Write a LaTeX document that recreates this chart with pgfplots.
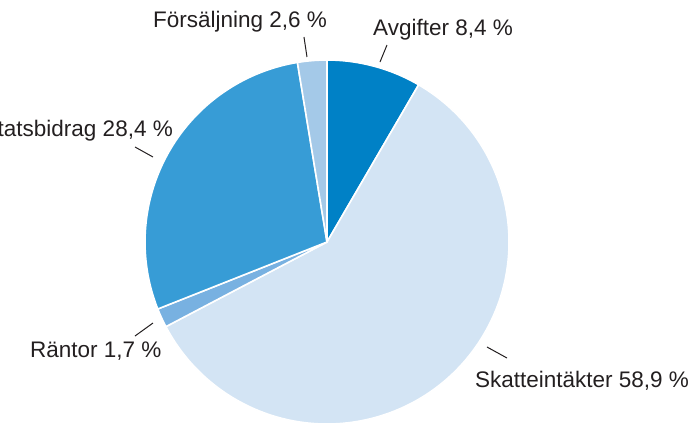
\documentclass[border=0pt]{standalone}
\usepackage{pgfplots}
\pgfplotsset{compat=1.18}
\usepackage{fontspec}
\setmainfont{Liberation Sans}
\definecolor{cA}{HTML}{0081C6}
\definecolor{cB}{HTML}{D3E4F4}
\definecolor{cC}{HTML}{78B1E1}
\definecolor{cD}{HTML}{379CD6}
\definecolor{cE}{HTML}{A4C9E8}
\definecolor{txt}{HTML}{231F20}
\tikzset{lbl/.style={font=\fontsize{22.5}{27}\selectfont, text=txt, inner sep=0pt}}
\begin{document}
\begin{tikzpicture}
% shares in percent, clockwise from 12 o'clock
\pgfmathsetmacro\vA{8.4}  % Avgifter
\pgfmathsetmacro\vB{58.9} % Skatteintäkter
\pgfmathsetmacro\vC{1.7}  % Räntor
\pgfmathsetmacro\vD{28.4} % Statsbidrag
\pgfmathsetmacro\vE{2.6}  % Försäljning
\pgfmathsetmacro\aO{90}
\pgfmathsetmacro\aA{\aO-3.6*\vA}
\pgfmathsetmacro\aB{\aA-3.6*\vB}
\pgfmathsetmacro\aC{\aB-3.6*\vC}
\pgfmathsetmacro\aD{\aC-3.6*\vD}
\pgfmathsetmacro\aE{\aD-3.6*\vE}
\begin{axis}[x=182pt, y=182pt, anchor=origin, at={(0,0)},
  xmin=-1.7967, xmax=2.0110, ymin=-1.0055, ymax=1.3297,
  hide axis, clip=false]
\coordinate (bl) at (axis cs:-1.7967,-1.0055);
\coordinate (tr) at (axis cs:2.0110,1.3297);
\fill[cA, draw=white, line width=1.6pt] (axis cs:0,0) -- (axis cs:{cos(\aO)},{sin(\aO)}) arc[start angle=\aO, end angle=\aA, radius=1] -- cycle;
\fill[cB, draw=white, line width=1.6pt] (axis cs:0,0) -- (axis cs:{cos(\aA)},{sin(\aA)}) arc[start angle=\aA, end angle=\aB, radius=1] -- cycle;
\fill[cC, draw=white, line width=1.6pt] (axis cs:0,0) -- (axis cs:{cos(\aB)},{sin(\aB)}) arc[start angle=\aB, end angle=\aC, radius=1] -- cycle;
\fill[cD, draw=white, line width=1.6pt] (axis cs:0,0) -- (axis cs:{cos(\aC)},{sin(\aC)}) arc[start angle=\aC, end angle=\aD, radius=1] -- cycle;
\fill[cE, draw=white, line width=1.6pt] (axis cs:0,0) -- (axis cs:{cos(\aD)},{sin(\aD)}) arc[start angle=\aD, end angle=\aE, radius=1] -- cycle;
% leader lines
\addplot[txt, line width=1pt] coordinates {(-0.1264,1.1264) (-0.1099,1.0165)};
\addplot[txt, line width=1pt] coordinates {(0.3297,1.0824) (0.2912,0.9890)};
\addplot[txt, line width=1pt] coordinates {(-1.0549,0.5220) (-0.9560,0.4670)};
\addplot[txt, line width=1pt] coordinates {(-1.0549,-0.5165) (-0.9560,-0.4451)};
\addplot[txt, line width=1pt] coordinates {(0.8791,-0.5769) (0.9890,-0.6374)};
% labels
\node[lbl, anchor=base west] at (axis cs:-0.956,1.181) {Försäljning 2,6 \%};
\node[lbl, anchor=base west] at (axis cs:0.2527,1.1319) {Avgifter 8,4 \%};
\node[lbl, anchor=base east] at (axis cs:-0.846,0.582) {Statsbidrag 28,4 \%};
\node[lbl, anchor=base west] at (axis cs:-1.632,-0.637) {Räntor 1,7 \%};
\node[lbl, anchor=base west] at (axis cs:0.813,-0.802) {Skatteintäkter 58,9 \%};
\end{axis}
\pgfresetboundingbox
\path[use as bounding box] (bl) rectangle (tr);
\end{tikzpicture}
\end{document}
